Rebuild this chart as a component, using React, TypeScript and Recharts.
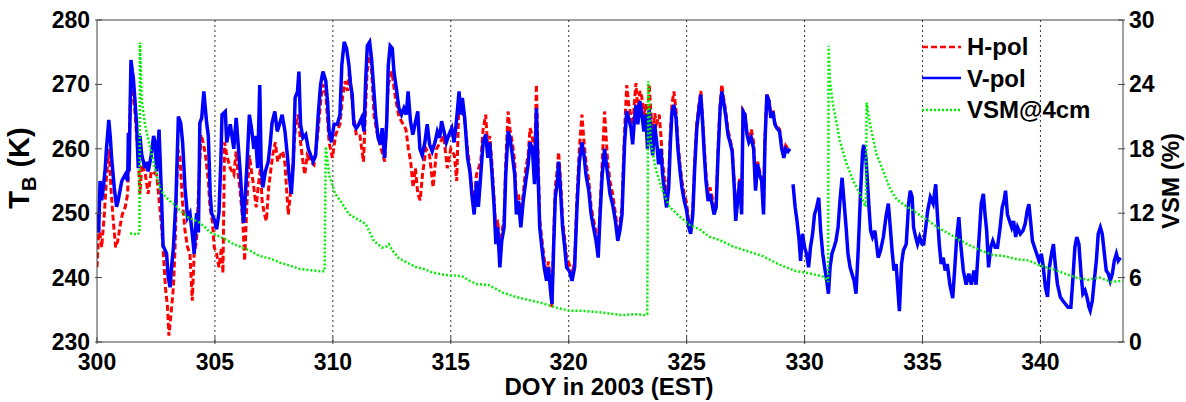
import React from 'react';
import { LineChart, Line, XAxis, YAxis, ReferenceLine, Legend } from 'recharts';

const FONT = '"Liberation Sans", Arial, Helvetica, sans-serif';
const AXIS = '#444';

const dayTicks = [300, 305, 310, 315, 320, 325, 330, 335, 340];
const gridDays = [305, 310, 315, 320, 325, 330, 335, 340];
const tbTicks = [230, 240, 250, 260, 270, 280];
const vsmTicks = [0, 6, 12, 18, 24, 30];

// [DOY, T_B in K]
const hPol: [number, number][] = [
  [300.0, 241.6], [300.08, 247.8], [300.2, 244.7], [300.31, 249.8], [300.41, 256], [300.51, 260], [300.59, 254],
  [300.69, 248.8], [300.79, 244.7], [300.88, 245.7], [300.97, 247.8], [301.07, 249.8], [301.2, 251], [301.3, 253],
  [301.44, 271], [301.6, 266], [301.75, 258.6], [301.82, 253], [301.9, 257.6], [302.03, 256.5], [302.17, 253],
  [302.3, 256.5], [302.53, 256], [302.74, 247.8], [302.8, 244.7], [302.9, 238.5], [302.99, 235.4], [303.05, 231],
  [303.14, 234.4], [303.24, 238.5], [303.31, 244.7], [303.42, 260], [303.52, 258.6], [303.62, 251.9], [303.73, 247.3],
  [303.84, 244.7], [303.94, 243.7], [304.04, 236.4], [304.12, 243.7], [304.22, 245.7], [304.32, 255], [304.41, 262.2],
  [304.5, 261], [304.6, 259], [304.72, 255], [304.79, 250.9], [304.89, 248.8], [304.97, 244.7], [305.07, 243.7],
  [305.17, 241.6], [305.28, 244.7], [305.34, 240.7], [305.41, 261], [305.5, 259], [305.65, 257], [305.8, 256],
  [305.9, 259.6], [305.97, 256.5], [306.08, 253], [306.18, 248.8], [306.26, 242.6], [306.36, 251.9], [306.46, 259],
  [306.55, 256.5], [306.65, 254], [306.75, 250.9], [306.83, 254], [306.93, 257], [307.0, 251.9], [307.1, 249.8],
  [307.18, 248.8], [307.28, 254], [307.38, 257], [307.45, 259], [307.56, 261], [307.66, 258], [307.77, 259],
  [307.88, 259.6], [307.97, 257.6], [308.11, 249.8], [308.28, 256], [308.42, 263.8], [308.53, 265.3], [308.63, 261],
  [308.73, 258], [308.81, 256], [308.91, 259], [309.06, 258], [309.2, 257.5], [309.38, 263], [309.5, 268],
  [309.6, 270], [309.7, 268.5], [309.84, 261], [309.98, 258.6], [310.12, 262.2], [310.3, 263.8], [310.41, 268],
  [310.52, 270.5], [310.62, 269], [310.7, 272], [310.85, 266], [311.0, 262], [311.15, 262], [311.3, 258],
  [311.45, 272], [311.6, 275], [311.75, 265], [311.9, 262], [312.05, 260], [312.2, 258], [312.35, 270],
  [312.5, 272], [312.65, 268], [312.8, 265], [312.95, 264], [313.1, 263], [313.2, 260], [313.3, 258],
  [313.4, 254], [313.5, 257], [313.6, 253], [313.7, 252], [313.8, 256], [313.95, 260], [314.1, 259],
  [314.25, 254], [314.4, 260], [314.55, 261], [314.7, 262], [314.85, 257], [315.0, 260], [315.15, 259],
  [315.25, 255], [315.35, 268], [315.5, 266], [315.6, 264], [315.71, 260], [315.81, 257], [315.89, 254],
  [315.99, 251], [316.09, 256], [316.27, 258], [316.37, 263], [316.48, 265.3], [316.57, 260], [316.65, 262],
  [316.74, 258], [316.84, 252], [316.91, 247], [316.99, 249], [317.08, 243], [317.16, 247], [317.26, 249],
  [317.33, 258], [317.43, 265.8], [317.51, 263], [317.61, 261], [317.71, 258], [317.78, 252], [317.87, 253],
  [317.97, 249], [318.07, 253], [318.18, 257], [318.28, 259], [318.36, 263.2], [318.46, 262], [318.55, 257],
  [318.63, 270], [318.7, 259], [318.77, 249], [318.86, 246], [318.96, 243], [319.06, 240.5], [319.14, 242.5],
  [319.23, 238.5], [319.29, 235.4], [319.36, 246], [319.43, 254], [319.52, 257], [319.57, 259.5], [319.66, 255],
  [319.74, 249], [319.83, 246], [319.91, 243], [320.03, 242], [320.14, 240.5], [320.25, 242.5], [320.35, 252.5],
  [320.45, 260], [320.56, 265.3], [320.65, 261], [320.73, 258], [320.85, 255], [320.95, 251], [321.05, 249],
  [321.16, 247], [321.25, 244], [321.33, 251], [321.42, 258], [321.52, 265.8], [321.65, 258], [321.75, 255],
  [321.86, 253], [321.98, 250], [322.08, 247], [322.17, 248.5], [322.26, 251], [322.31, 257], [322.37, 263],
  [322.46, 269.9], [322.54, 267], [322.64, 265], [322.71, 263], [322.78, 267], [322.85, 270.2], [322.93, 266],
  [323.02, 269], [323.1, 268], [323.19, 265], [323.27, 267], [323.34, 263], [323.41, 270], [323.48, 266],
  [323.56, 262], [323.64, 265.5], [323.73, 264], [323.84, 265.3], [323.91, 262], [323.98, 258], [324.07, 255],
  [324.15, 252.5], [324.24, 256], [324.31, 262.5], [324.38, 267], [324.46, 268.9], [324.55, 266], [324.63, 261],
  [324.72, 257.5], [324.8, 255], [324.9, 253], [325.0, 251.5], [325.09, 248.5], [325.17, 247.5], [325.26, 250.5],
  [325.34, 258], [325.43, 264], [325.51, 266.5], [325.6, 269], [325.68, 264.5], [325.75, 260], [325.82, 256],
  [325.91, 253], [325.99, 254], [326.08, 252.5], [326.16, 250.5], [326.25, 251.5], [326.33, 260], [326.42, 267],
  [326.49, 270], [326.56, 268], [326.65, 266], [326.75, 263], [326.84, 261.5], [326.93, 260], [327.02, 254.5],
  [327.08, 249.5], [327.16, 252.5], [327.25, 255.5], [327.33, 250.5], [327.39, 266], [327.47, 265.5], [327.56, 262.5],
  [327.64, 261.5], [327.74, 263], [327.84, 261], [327.92, 254], [328.01, 258], [328.09, 256.5], [328.18, 255.5],
  [328.26, 250.5], [328.32, 261.5], [328.4, 268.5], [328.49, 267.5], [328.57, 265], [328.66, 266], [328.74, 264],
  [328.83, 263.5], [328.94, 263], [329.03, 260.5], [329.12, 259], [329.2, 260.5], [329.3, 260],
];

const vPol: [number, number | null][] = [
  [300.0, 250], [300.07, 247], [300.13, 255], [300.2, 252], [300.27, 254], [300.35, 257], [300.4, 260],
  [300.5, 264.5], [300.56, 262], [300.62, 258.6], [300.73, 254], [300.83, 251], [300.9, 252], [301.05, 255],
  [301.2, 256], [301.3, 255], [301.33, 262.5], [301.36, 256.5], [301.44, 273.8], [301.5, 272], [301.54, 271],
  [301.6, 268], [301.68, 263.8], [301.75, 257], [301.82, 262], [301.9, 259], [302.03, 257], [302.1, 258],
  [302.17, 256.5], [302.3, 259], [302.4, 262], [302.46, 261], [302.53, 256.5], [302.63, 263], [302.74, 252],
  [302.8, 245], [302.95, 243.7], [303.02, 240], [303.1, 238.5], [303.17, 242], [303.24, 244.6], [303.35, 252.4],
  [303.45, 265], [303.55, 264], [303.63, 261], [303.73, 254], [303.84, 249.3], [303.94, 250], [304.04, 246.8],
  [304.12, 243.7], [304.22, 250], [304.3, 247], [304.36, 264], [304.44, 264.8], [304.53, 268.9], [304.6, 266],
  [304.65, 264], [304.72, 262], [304.8, 253], [304.86, 250], [304.97, 249], [305.07, 247.5], [305.17, 250],
  [305.25, 258], [305.3, 265.3], [305.44, 265.8], [305.5, 261], [305.65, 263.8], [305.8, 260], [305.9, 264.8],
  [306.0, 260], [306.08, 256], [306.18, 249.8], [306.22, 248.5], [306.26, 250.9], [306.36, 257.6], [306.46, 265.3],
  [306.55, 263.2], [306.65, 260], [306.72, 262], [306.81, 257], [306.9, 269.9], [306.96, 257.6], [307.03, 254],
  [307.14, 256.5], [307.26, 258], [307.35, 261], [307.42, 264], [307.54, 265.8], [307.64, 262.7], [307.74, 263.8],
  [307.85, 265.3], [307.97, 262.7], [308.07, 259], [308.14, 256], [308.24, 253], [308.32, 257.6], [308.4, 267.9],
  [308.5, 268.9], [308.56, 272], [308.63, 263.8], [308.73, 261.7], [308.85, 262.2], [308.96, 260], [309.06, 259],
  [309.16, 258], [309.27, 259], [309.38, 265.3], [309.48, 270], [309.58, 272], [309.7, 270.5], [309.78, 267],
  [309.84, 262.7], [309.94, 261], [310.05, 263.8], [310.19, 263.8], [310.3, 265.3], [310.38, 273], [310.48, 276.6],
  [310.58, 275.6], [310.68, 273], [310.75, 270], [310.82, 268.4], [310.89, 263.8], [310.99, 263.2], [311.1, 263.8],
  [311.22, 264.8], [311.32, 262.7], [311.39, 270.5], [311.46, 276], [311.56, 276.6], [311.64, 274], [311.71, 270.5],
  [311.81, 265.3], [311.92, 261.7], [312.02, 260.7], [312.09, 263.2], [312.19, 258.6], [312.28, 263.8], [312.35, 273],
  [312.43, 276], [312.52, 275.6], [312.59, 272], [312.69, 269.4], [312.8, 266.3], [312.91, 265.3], [313.01, 266.3],
  [313.11, 265.3], [313.19, 268.9], [313.29, 264.3], [313.39, 262.2], [313.51, 264.3], [313.6, 265.8], [313.69, 260],
  [313.79, 259], [313.9, 261], [314.0, 263.8], [314.1, 260.7], [314.21, 259.6], [314.33, 261], [314.43, 262.7],
  [314.53, 261.7], [314.61, 264.3], [314.71, 262.7], [314.81, 261], [314.92, 262.2], [315.04, 263.2], [315.14, 261],
  [315.24, 264.3], [315.35, 268.9], [315.42, 265.3], [315.49, 267.9], [315.59, 264.8], [315.71, 258.6], [315.81, 256.5],
  [315.89, 253], [315.99, 249.8], [316.09, 255], [316.17, 251], [316.27, 256], [316.37, 261], [316.48, 262.2],
  [316.57, 258.6], [316.65, 261], [316.74, 256.5], [316.84, 250.9], [316.91, 245.2], [316.99, 247.8], [317.08, 241.6],
  [317.16, 245.7], [317.26, 247.8], [317.33, 256], [317.43, 262.7], [317.51, 261.7], [317.61, 259], [317.71, 256],
  [317.78, 249.8], [317.87, 251.9], [317.97, 247.8], [318.07, 251.9], [318.18, 255], [318.28, 257.6], [318.36, 261],
  [318.46, 260], [318.55, 254.5], [318.63, 266.3], [318.7, 256], [318.77, 247.8], [318.86, 244.7], [318.96, 241.6],
  [319.06, 239.5], [319.14, 241.6], [319.23, 237.9], [319.29, 235.9], [319.36, 244.7], [319.43, 252.4], [319.52, 255],
  [319.57, 258], [319.66, 253], [319.74, 247.8], [319.83, 244.7], [319.91, 241.6], [320.03, 241], [320.14, 239.5],
  [320.25, 241.6], [320.35, 250.9], [320.45, 258], [320.56, 261], [320.65, 259], [320.73, 256], [320.85, 253.5],
  [320.95, 249.8], [321.05, 247.8], [321.16, 245.7], [321.25, 243.1], [321.33, 249.8], [321.42, 256], [321.52, 260],
  [321.55, 259], [321.65, 256], [321.75, 253], [321.86, 251.4], [321.98, 248.8], [322.08, 245.7], [322.17, 247.3],
  [322.26, 249.8], [322.31, 255], [322.37, 261], [322.46, 265.8], [322.54, 264.8], [322.64, 263.2], [322.71, 260.7],
  [322.78, 264.3], [322.85, 266.8], [322.93, 263.8], [323.02, 267.4], [323.1, 265.3], [323.19, 262.7], [323.27, 265.3],
  [323.34, 260], [323.41, 266.3], [323.48, 262.2], [323.56, 259], [323.64, 263.8], [323.73, 261], [323.81, 257.6],
  [323.91, 260], [323.98, 256], [324.07, 253], [324.15, 250.9], [324.24, 254], [324.31, 261], [324.38, 265.8],
  [324.46, 266.8], [324.55, 264.8], [324.63, 260], [324.72, 256.5], [324.8, 254], [324.9, 251.9], [325.0, 250.4],
  [325.09, 247.8], [325.17, 246.8], [325.26, 249.8], [325.34, 257], [325.43, 263.2], [325.51, 265.8], [325.6, 268.4],
  [325.68, 263.8], [325.75, 259], [325.82, 255], [325.91, 251.9], [325.99, 253], [326.08, 251.4], [326.16, 249.8],
  [326.25, 250.9], [326.33, 259], [326.42, 266.3], [326.49, 268.9], [326.56, 267.4], [326.65, 265.3], [326.75, 262.2],
  [326.84, 261], [326.93, 259.6], [327.02, 254], [327.08, 248.8], [327.16, 251.9], [327.25, 255], [327.33, 249.8],
  [327.39, 265.8], [327.47, 265.3], [327.56, 262.2], [327.64, 261], [327.74, 261.7], [327.84, 260], [327.92, 253.5],
  [328.01, 257.6], [328.09, 256], [328.18, 255], [328.26, 249.8], [328.32, 261], [328.4, 268.4], [328.49, 267.4],
  [328.57, 264.8], [328.66, 265.8], [328.74, 263.8], [328.83, 263.2], [328.94, 262.7], [329.03, 260], [329.12, 258.6],
  [329.2, 260], [329.3, 259.6], [329.38, 260], [329.45, null],
  [329.51, 254.5], [329.6, 250.9], [329.68, 248.8], [329.77, 245.7], [329.83, 242.6], [329.91, 246.8], [330.0, 244.7],
  [330.08, 243.7], [330.17, 241.6], [330.25, 244.7], [330.34, 246.8], [330.42, 249.8], [330.51, 250.9], [330.6, 252.4],
  [330.68, 247.3], [330.77, 243.7], [330.85, 241.6], [330.94, 239.5], [331.01, 237.5], [331.08, 241.6], [331.16, 243.7],
  [331.25, 244.7], [331.33, 245.7], [331.42, 247.8], [331.5, 251.9], [331.59, 255.5], [331.67, 251.9], [331.76, 247.8],
  [331.84, 243.7], [331.93, 241.6], [332.01, 240.6], [332.1, 239.5], [332.18, 237.5], [332.27, 244], [332.37, 252.9],
  [332.46, 259.6], [332.51, 260.6], [332.6, 258.6], [332.67, 254.5], [332.74, 250.4], [332.8, 247.3], [332.88, 246.3],
  [332.98, 247.3], [333.05, 245.2], [333.12, 243.1], [333.22, 244.2], [333.34, 246.3], [333.45, 249.4], [333.55, 251.5],
  [333.62, 248.4], [333.71, 244.2], [333.79, 241.1], [333.88, 242.1], [333.96, 237.9], [334.02, 234.8], [334.11, 242.1],
  [334.19, 244.2], [334.31, 245.2], [334.41, 251.5], [334.48, 253.5], [334.56, 252.5], [334.62, 247.8], [334.71, 246.3],
  [334.79, 245.2], [334.88, 246.3], [334.98, 245.2], [335.05, 245.2], [335.12, 247.3], [335.22, 250.4], [335.33, 252.5],
  [335.45, 251.5], [335.56, 254.5], [335.62, 250.4], [335.71, 245.2], [335.79, 242.1], [335.88, 243.1], [335.96, 241.1],
  [336.05, 242.1], [336.16, 238.9], [336.28, 236.8], [336.36, 241.1], [336.45, 246.3], [336.54, 249.4], [336.62, 245.2],
  [336.73, 241.1], [336.85, 238.9], [336.96, 240.6], [337.07, 238.9], [337.18, 241.1], [337.27, 238.9], [337.38, 245.2],
  [337.49, 251.5], [337.58, 253], [337.65, 249.8], [337.72, 247.3], [337.8, 241.6], [337.89, 244.7], [337.98, 245.7],
  [338.08, 244.7], [338.18, 244.7], [338.29, 247.8], [338.38, 250.9], [338.46, 252], [338.52, 253.5], [338.6, 249.8],
  [338.69, 248.8], [338.78, 247.8], [338.86, 248.8], [338.95, 246.3], [339.03, 247.8], [339.15, 246.8], [339.26, 247.3],
  [339.35, 248.3], [339.44, 250.4], [339.51, 251.4], [339.58, 248.8], [339.66, 245.7], [339.75, 244.7], [339.84, 243.7],
  [339.94, 242.6], [340.04, 243.7], [340.12, 241.6], [340.21, 238.5], [340.3, 237], [340.38, 241.6], [340.47, 243.7],
  [340.55, 245.2], [340.64, 241.6], [340.72, 239], [340.84, 237], [340.95, 236.4], [341.06, 235.9], [341.17, 235.4],
  [341.29, 235.4], [341.37, 239.5], [341.46, 244.7], [341.54, 246.3], [341.63, 245.2], [341.72, 240.6], [341.8, 237.5],
  [341.89, 238], [341.97, 237], [342.06, 235.4], [342.11, 234.9], [342.2, 236.4], [342.28, 239.5], [342.37, 242.6],
  [342.45, 246.8], [342.54, 247.8], [342.62, 246.8], [342.71, 243.7], [342.79, 241.1], [342.88, 240.6], [342.96, 239.5],
  [343.05, 240.6], [343.13, 242.6], [343.22, 243.7], [343.3, 242.6], [343.39, 243.1],
];

// [DOY, VSM in %]
const vsm4cm: [number, number][] = [
  [301.4, 10.1], [301.55, 10.1], [301.7, 10.0], [301.8, 10.2], [301.82, 27.9], [301.89, 22.7], [302.03, 20.3],
  [302.25, 18.1], [302.46, 16.2], [302.67, 14.3], [302.88, 13.6], [303.1, 13.1], [303.3, 12.8], [303.5, 12.3],
  [303.87, 11.6], [304.3, 11.2], [304.58, 10.7], [304.8, 10.2], [305.14, 9.9], [305.5, 9.5], [305.8, 9.1],
  [306.06, 8.9], [306.5, 8.5], [306.9, 8.0], [307.3, 7.8], [307.75, 7.4], [308.2, 7.1], [308.6, 6.8],
  [309.0, 6.7], [309.45, 6.6], [309.65, 6.6], [309.7, 18.2], [309.85, 15.5], [310.1, 13.8], [310.4, 12.9],
  [310.68, 11.9], [311.0, 11.5], [311.39, 11.0], [311.55, 10.3], [311.74, 9.4], [312.09, 8.8], [312.3, 8.9],
  [312.38, 9.1], [312.5, 8.6], [312.8, 7.8], [313.15, 7.4], [313.5, 7.0], [313.85, 6.8], [314.2, 6.5],
  [314.6, 6.3], [314.92, 6.2], [315.2, 6.2], [315.49, 6.1], [315.8, 5.7], [316.1, 5.4], [316.62, 5.3],
  [317.2, 4.6], [317.76, 4.2], [318.33, 3.9], [318.9, 3.6], [319.48, 3.2], [320.04, 2.9], [320.6, 2.9],
  [321.16, 2.8], [321.6, 2.7], [322.29, 2.5], [322.8, 2.6], [323.27, 2.5], [323.33, 2.6], [323.37, 24.3],
  [323.48, 18.7], [323.7, 16.0], [323.98, 14.1], [324.27, 12.6], [324.7, 11.7], [325.13, 10.9], [325.55, 10.5],
  [325.97, 9.8], [326.4, 9.5], [326.96, 8.9], [327.53, 8.5], [328.23, 8.0], [328.94, 7.2], [329.64, 6.6],
  [330.21, 6.4], [330.78, 6.1], [330.95, 5.8], [331.0, 5.6], [331.02, 27.6], [331.07, 24.4], [331.2, 22.2],
  [331.5, 18.7], [331.78, 16.6], [332.07, 15.0], [332.35, 13.8], [332.55, 12.8], [332.6, 12.6], [332.63, 22.3],
  [332.77, 20.3], [333.05, 17.5], [333.34, 15.9], [333.62, 14.3], [333.9, 13.3], [334.34, 12.6], [334.76, 12.0],
  [335.19, 11.4], [335.62, 10.7], [336.04, 10.2], [336.5, 9.6], [337.0, 9.0], [337.5, 8.5], [338.0, 8.1],
  [338.5, 8.0], [339.0, 7.7], [339.5, 7.6], [340.0, 7.1], [340.5, 6.8], [341.0, 6.4], [341.5, 6.0],
  [342.0, 5.8], [342.5, 6.0], [343.0, 5.6], [343.5, 5.7],
];

const legendItems = [
  { label: 'H-pol', color: '#ff0000', dash: '6 3' },
  { label: 'V-pol', color: '#0000ff', dash: undefined },
  { label: 'VSM@4cm', color: '#00ee00', dash: '2 2' },
];

const hData = hPol.map(([doy, tb]) => ({ doy, tb }));
const vData = vPol.map(([doy, tb]) => ({ doy, tb }));
const sData = vsm4cm.map(([doy, vsm]) => ({ doy, vsm }));

const textStyle = { fontFamily: FONT, fontWeight: 'bold' as const, fontSize: 23, fill: '#000' };

const BottomTick = (props: any) => {
  const { x, y, payload } = props;
  return (
    <g>
      <line x1={x} y1={y} x2={x} y2={y - 7} stroke={AXIS} />
      <text x={x} y={y + 26} textAnchor="middle" {...textStyle}>{payload.value}</text>
    </g>
  );
};

const LeftTick = (props: any) => {
  const { x, y, payload } = props;
  return (
    <g>
      <line x1={x} y1={y} x2={x + 7} y2={y} stroke={AXIS} />
      <text x={x - 5} y={y + 8} textAnchor="end" {...textStyle}>{payload.value}</text>
    </g>
  );
};

const RightTick = (props: any) => {
  const { x, y, payload } = props;
  return (
    <g>
      <line x1={x} y1={y} x2={x - 7} y2={y} stroke={AXIS} />
      <text x={x + 4} y={y + 8} textAnchor="start" {...textStyle}>{payload.value}</text>
    </g>
  );
};

const renderLegend = () => (
  <div style={{ fontFamily: FONT, fontWeight: 'bold', fontSize: 24, lineHeight: '31.5px' }}>
    {legendItems.map((item) => (
      <div key={item.label} style={{ display: 'flex', alignItems: 'center', height: 31.5 }}>
        <svg width={42} height={8}>
          <line x1={1} y1={4} x2={40} y2={4} stroke={item.color} strokeWidth={2.5} strokeDasharray={item.dash} />
        </svg>
        <span style={{ marginLeft: 4 }}>{item.label}</span>
      </div>
    ))}
  </div>
);

const labelBase: React.CSSProperties = {
  position: 'absolute',
  fontFamily: FONT,
  fontWeight: 'bold',
  whiteSpace: 'nowrap',
  color: '#000',
};

export default function App() {
  return (
    <div style={{ position: 'absolute', left: 0, top: 0, width: 1186, height: 402, background: '#fff' }}>
      <LineChart width={1186} height={402} margin={{ top: 20, right: 3, bottom: 20, left: 37 }}>
        <XAxis
          dataKey="doy"
          type="number"
          domain={[300, 343.5]}
          ticks={dayTicks}
          allowDataOverflow
          height={40}
          tickSize={0}
          tickLine={false}
          stroke={AXIS}
          tick={<BottomTick />}
        />
        <YAxis
          yAxisId="tb"
          domain={[230, 280]}
          ticks={tbTicks}
          allowDataOverflow
          width={60}
          tickSize={0}
          tickLine={false}
          stroke={AXIS}
          tick={<LeftTick />}
        />
        <YAxis
          yAxisId="vsm"
          orientation="right"
          domain={[0, 30]}
          ticks={vsmTicks}
          allowDataOverflow
          width={60}
          tickSize={0}
          tickLine={false}
          stroke={AXIS}
          tick={<RightTick />}
        />
        <ReferenceLine yAxisId="tb" y={280} stroke={AXIS} />
        {gridDays.map((d) => (
          <ReferenceLine key={d} yAxisId="tb" x={d} stroke="#333" strokeDasharray="2 3" />
        ))}
        <Line
          data={hData}
          yAxisId="tb"
          dataKey="tb"
          name="H-pol"
          stroke="#ff0000"
          strokeWidth={3}
          strokeDasharray="6 3"
          dot={false}
          isAnimationActive={false}
        />
        <Line
          data={vData}
          yAxisId="tb"
          dataKey="tb"
          name="V-pol"
          stroke="#0000ff"
          strokeWidth={3.5}
          dot={false}
          connectNulls={false}
          isAnimationActive={false}
        />
        <Line
          data={sData}
          yAxisId="vsm"
          dataKey="vsm"
          name="VSM@4cm"
          stroke="#00ee00"
          strokeWidth={2.5}
          strokeDasharray="2 2"
          dot={false}
          isAnimationActive={false}
        />
        <Legend
          layout="horizontal"
          verticalAlign="middle"
          align="center"
          content={renderLegend}
          wrapperStyle={{ position: 'absolute', left: 921, top: 31, width: 'auto' }}
        />
      </LineChart>
      <div style={{ ...labelBase, left: 22, top: 168, fontSize: 29, transform: 'translate(-50%, -50%) rotate(-90deg)' }}>
        T<sub style={{ fontSize: 20, verticalAlign: -7 }}>B</sub>
        <span style={{ marginLeft: 9 }}>(K)</span>
      </div>
      <div style={{ ...labelBase, left: 1171, top: 181, fontSize: 24, transform: 'translate(-50%, -50%) rotate(-90deg)' }}>
        VSM (%)
      </div>
      <div style={{ ...labelBase, left: 609, top: 387, fontSize: 24, transform: 'translate(-50%, -50%)' }}>
        DOY in 2003 (EST)
      </div>
    </div>
  );
}
